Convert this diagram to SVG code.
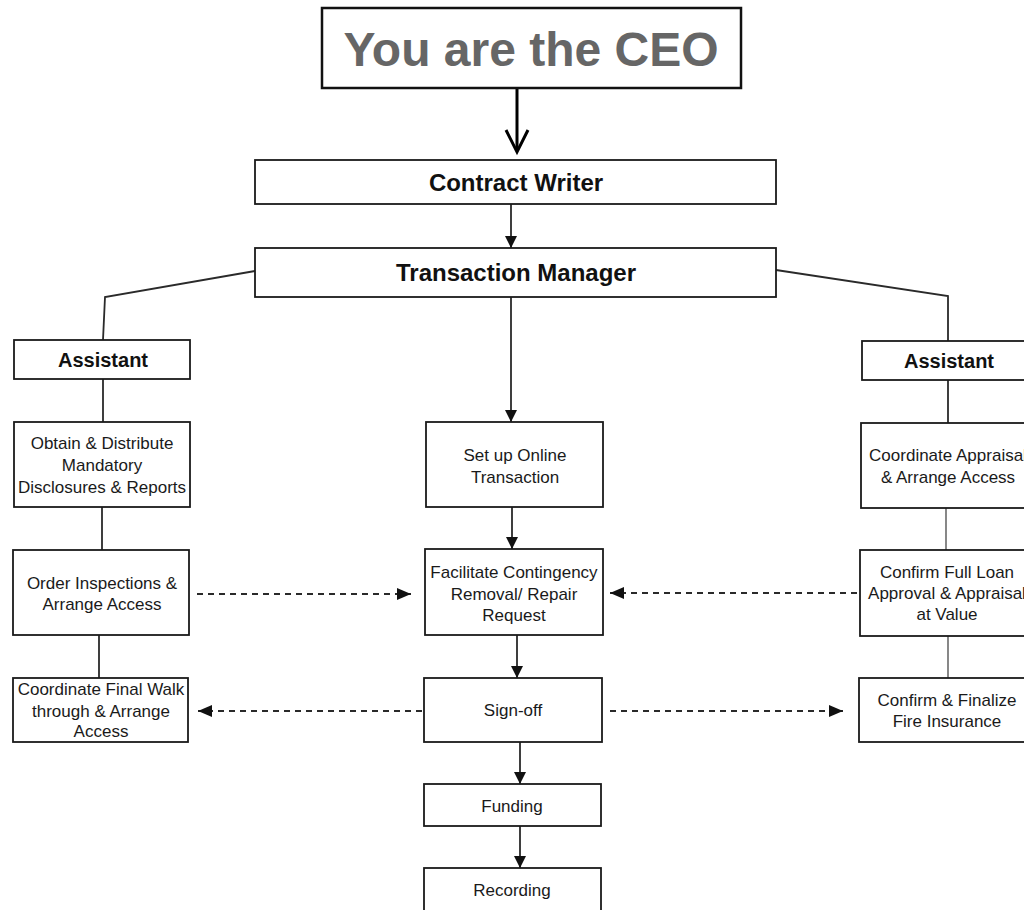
<svg xmlns="http://www.w3.org/2000/svg" width="1024" height="910" viewBox="0 0 1024 910">
<style>
.box{fill:#fff;stroke:#1a1a1a;stroke-width:1.8}
.ceo{fill:#fff;stroke:#111;stroke-width:2.5}
.t{font-family:"Liberation Sans",Arial,sans-serif;font-size:17px;fill:#1a1a1a;text-anchor:middle}
.h{font-family:"Liberation Sans",Arial,sans-serif;font-size:24px;font-weight:bold;fill:#111;text-anchor:middle}
.ha{font-family:"Liberation Sans",Arial,sans-serif;font-size:20px;font-weight:bold;fill:#111;text-anchor:middle}
.big{font-family:"Liberation Sans",Arial,sans-serif;font-size:48px;font-weight:bold;fill:#666;text-anchor:middle}
.ln{fill:none;stroke:#2a2a2a;stroke-width:1.8}
.thin{fill:none;stroke:#555;stroke-width:1.4}
.dash{fill:none;stroke:#2a2a2a;stroke-width:1.8;stroke-dasharray:6 5}
</style>
<defs>
<marker id="tri" viewBox="0 0 12 12" refX="12" refY="6" markerWidth="12" markerHeight="12" markerUnits="userSpaceOnUse" orient="auto">
<path d="M0,0 L12,6 L0,12 z" fill="#111"/>
</marker>
<marker id="dtri" viewBox="0 0 14 12" refX="14" refY="6" markerWidth="14" markerHeight="12" markerUnits="userSpaceOnUse" orient="auto">
<path d="M0,0 L14,6 L0,12 z" fill="#111"/>
</marker>
</defs>
<rect width="1024" height="910" fill="#fff"/>

<g id="connectors">
<line class="ln" x1="517" y1="88" x2="517" y2="151" style="stroke:#000;stroke-width:3"/>
<polyline points="506,130 517,152 528,130" fill="none" stroke="#000" stroke-width="3"/>
<line class="ln" x1="511" y1="204" x2="511" y2="248" marker-end="url(#tri)"/>
<polyline class="ln" points="255,271 105,297 103,340"/>
<polyline class="ln" points="776,270 948,296 948,341"/>
<line class="ln" x1="103" y1="379" x2="103" y2="422"/>
<line class="ln" x1="102" y1="507" x2="102" y2="550"/>
<line class="ln" x1="99" y1="635" x2="99" y2="678"/>
<line class="ln" x1="948" y1="380" x2="948" y2="423"/>
<line class="thin" x1="946" y1="508" x2="946" y2="550"/>
<line class="thin" x1="948" y1="636" x2="948" y2="678"/>
<line class="ln" x1="511" y1="297" x2="511" y2="422" marker-end="url(#tri)"/>
<line class="ln" x1="512" y1="507" x2="512" y2="549" marker-end="url(#tri)"/>
<line class="ln" x1="517" y1="635" x2="517" y2="678" marker-end="url(#tri)"/>
<line class="ln" x1="520" y1="742" x2="520" y2="784" marker-end="url(#tri)"/>
<line class="ln" x1="520" y1="826" x2="520" y2="868" marker-end="url(#tri)"/>
<line class="dash" x1="197" y1="594" x2="411" y2="594" marker-end="url(#dtri)"/>
<line class="dash" x1="857" y1="593" x2="610" y2="593" marker-end="url(#dtri)"/>
<line class="dash" x1="422" y1="711" x2="198" y2="711" marker-end="url(#dtri)"/>
<line class="dash" x1="610" y1="711" x2="843" y2="711" marker-end="url(#dtri)"/>
</g>

<g id="ceo">
<rect class="ceo" x="322" y="8" width="419" height="80"/>
<text class="big" x="531" y="66">You are the CEO</text>
</g>
<g id="contract-writer">
<rect class="box" x="255" y="160" width="521" height="44"/>
<text class="h" x="516" y="191">Contract Writer</text>
</g>
<g id="transaction-manager">
<rect class="box" x="255" y="248" width="521" height="49"/>
<text class="h" x="516" y="281">Transaction Manager</text>
</g>

<g id="assistant-left">
<rect class="box" x="14" y="340" width="176" height="39"/>
<text class="ha" x="103" y="367">Assistant</text>
</g>
<g id="obtain">
<rect class="box" x="14" y="422" width="176" height="85"/>
<text class="t" x="102" y="449">Obtain &amp; Distribute</text>
<text class="t" x="102" y="471">Mandatory</text>
<text class="t" x="102" y="493">Disclosures &amp; Reports</text>
</g>
<g id="order-inspections">
<rect class="box" x="13" y="550" width="176" height="85"/>
<text class="t" x="102" y="589">Order Inspections &amp;</text>
<text class="t" x="102" y="610">Arrange Access</text>
</g>
<g id="final-walk">
<rect class="box" x="13" y="678" width="175" height="64"/>
<text class="t" x="101" y="695">Coordinate Final Walk</text>
<text class="t" x="101" y="717">through &amp; Arrange</text>
<text class="t" x="101" y="737">Access</text>
</g>

<g id="setup-online">
<rect class="box" x="426" y="422" width="177" height="85"/>
<text class="t" x="515" y="461">Set up Online</text>
<text class="t" x="515" y="483">Transaction</text>
</g>
<g id="facilitate">
<rect class="box" x="425" y="549" width="178" height="86"/>
<text class="t" x="514" y="578">Facilitate Contingency</text>
<text class="t" x="514" y="600">Removal/ Repair</text>
<text class="t" x="514" y="621">Request</text>
</g>
<g id="sign-off">
<rect class="box" x="424" y="678" width="178" height="64"/>
<text class="t" x="513" y="716">Sign-off</text>
</g>
<g id="funding">
<rect class="box" x="424" y="784" width="177" height="42"/>
<text class="t" x="512" y="812">Funding</text>
</g>
<g id="recording">
<rect class="box" x="424" y="868" width="177" height="60"/>
<text class="t" x="512" y="896">Recording</text>
</g>

<g id="assistant-right">
<rect class="box" x="862" y="341" width="180" height="39"/>
<text class="ha" x="949" y="368">Assistant</text>
</g>
<g id="appraisal">
<rect class="box" x="861" y="423" width="180" height="85"/>
<text class="t" x="948" y="461">Coordinate Appraisal</text>
<text class="t" x="948" y="483">&amp; Arrange Access</text>
</g>
<g id="loan-approval">
<rect class="box" x="860" y="550" width="180" height="86"/>
<text class="t" x="947" y="578">Confirm Full Loan</text>
<text class="t" x="947" y="599">Approval &amp; Appraisal</text>
<text class="t" x="947" y="620">at Value</text>
</g>
<g id="fire-insurance">
<rect class="box" x="859" y="678" width="180" height="64"/>
<text class="t" x="947" y="706">Confirm &amp; Finalize</text>
<text class="t" x="947" y="727">Fire Insurance</text>
</g>
</svg>
